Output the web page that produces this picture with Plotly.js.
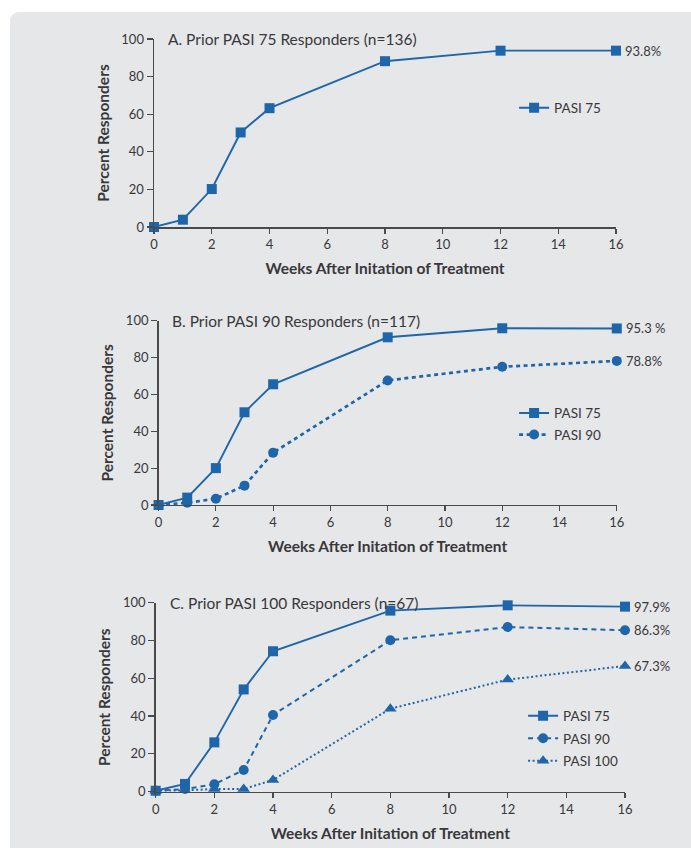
<!DOCTYPE html>
<html>
<head>
<meta charset="utf-8">
<script src="https://cdn.plot.ly/plotly-3.0.1.min.js"></script>
<style>
  html, body { margin: 0; padding: 0; background: #ffffff; }
  #bg { position: absolute; left: 10px; top: 12px; width: 700px; height: 860px; background: #e6e7e9; border-radius: 9px; }
  #chart { position: absolute; left: 0; top: 0; width: 691px; height: 848px; }
</style>
</head>
<body>
<div id="bg"></div>
<div id="chart"></div>
<script>
// ---- data ----
const weeks = [0, 1, 2, 3, 4, 8, 12, 16];
const tickWeeks = [0, 2, 4, 6, 8, 10, 12, 14, 16];
const yTicks = [0, 20, 40, 60, 80, 100];

const panelTitles = [
  "A. Prior PASI 75 Responders (n=136)",
  "B. Prior PASI 90 Responders (n=117)",
  "C. Prior PASI 100 Responders (n=67)"
];
const seriesNames = ["PASI 75", "PASI 90", "PASI 100"];

// Panel A
const a_pasi75 = [0, 3.9, 20.2, 50.3, 63.2, 88.2, 93.8, 93.8];
const a_labels = ["93.8%"];
// Panel B
const b_pasi75 = [0, 4.0, 20.0, 50.3, 65.5, 91.0, 95.9, 95.8];
const b_pasi90 = [0, 1.2, 3.4, 10.5, 28.4, 67.6, 75.0, 78.2];
const b_labels = ["95.3 %", "78.8%"];
// Panel C
const c_pasi75 = [0.5, 4.1, 26.1, 54.1, 74.3, 95.8, 98.6, 97.9];
const c_pasi90 = [0.5, 1.4, 3.9, 11.5, 40.6, 80.1, 87.1, 85.4];
const c_pasi100 = [0.5, 0.7, 1.4, 1.4, 6.2, 43.9, 59.3, 66.5];
const c_labels = ["97.9%", "86.3%", "67.3%"];

const xTitle = "Weeks After Initation of Treatment";
const yTitle = "Percent Responders";

// ---- styling ----
const BLUE = "#1f65aa";
const TXT = "#38383a";
const AX = "#4a4a4a";
const FONT = "Lato, 'Open Sans', sans-serif";

const markerStyles = [
  {symbol: "square", size: 10},
  {symbol: "circle", size: 10},
  {symbol: "triangle-up", size: 11}
];

const panels = [
  {series: [a_pasi75], labels: a_labels, lines: [{dash: "solid", width: 1.9}], gap: 2,
   xd: [0.2229, 0.8915], yd: [0.7323, 0.954], leg: {x: 0.744, y: 0.891}},
  {series: [b_pasi75, b_pasi90], labels: b_labels, lines: [{dash: "solid", width: 1.9}, {dash: "4px,3.5px", width: 2.7}], gap: 1,
   xd: [0.2295, 0.8926], yd: [0.4045, 0.6218], leg: {x: 0.744, y: 0.531}},
  {series: [c_pasi75, c_pasi90, c_pasi100], labels: c_labels,
   lines: [{dash: "solid", width: 1.9}, {dash: "5px,4px", width: 2}, {dash: "2px,2.5px", width: 2}], gap: 2,
   xd: [0.2253, 0.9045], yd: [0.0664, 0.2893], leg: {x: 0.757, y: 0.174}}
];

const traces = [];
const annotations = [];
const layout = {
  width: 691, height: 848,
  margin: {l: 0, r: 0, t: 0, b: 0},
  paper_bgcolor: "rgba(0,0,0,0)",
  plot_bgcolor: "rgba(0,0,0,0)",
  font: {family: FONT, color: TXT, size: 12},
  showlegend: true,
  annotations: annotations
};

panels.forEach((p, i) => {
  const n = i === 0 ? "" : String(i + 1);
  const xa = "x" + n, ya = "y" + n;
  const legName = "legend" + n;
  p.series.forEach((vals, s) => {
    traces.push({
      x: weeks, y: vals, xaxis: xa, yaxis: ya,
      type: "scatter", mode: "lines+markers",
      name: seriesNames[s],
      legend: legName,
      legendgroup: "g" + i + "_" + s,
      cliponaxis: false,
      line: {color: BLUE, width: p.lines[s].width, dash: p.lines[s].dash},
      marker: {color: BLUE, symbol: markerStyles[s].symbol, size: markerStyles[s].size}
    });
    annotations.push({
      xref: xa, yref: ya, x: weeks[weeks.length - 1], y: vals[vals.length - 1],
      text: p.labels[s], showarrow: false, xanchor: "left", yanchor: "middle",
      xshift: 7, font: {size: 13, color: TXT, family: FONT}
    });
  });
  annotations.push({
    xref: xa + " domain", yref: ya + " domain", x: 0.026, y: 1,
    text: panelTitles[i], showarrow: false, xanchor: "left", yanchor: "middle",
    font: {size: 15.5, color: TXT, family: FONT}
  });
  layout["xaxis" + n] = {
    domain: p.xd, anchor: ya, range: [0, 16], tickvals: tickWeeks,
    showline: true, linecolor: AX, linewidth: 1.5, ticks: "outside", ticklen: 5,
    tickcolor: AX, tickwidth: 1.2, showgrid: false, zeroline: false, fixedrange: true,
    tickfont: {size: 13, color: TXT, family: FONT},
    title: {text: xTitle, standoff: 12, font: {size: 15.5, color: TXT, family: FONT, weight: "bold"}},
    automargin: false
  };
  layout["yaxis" + n] = {
    domain: p.yd, anchor: xa, range: [0, 100], tickvals: yTicks,
    showline: true, linecolor: AX, linewidth: 1.5, ticks: "outside", ticklen: 6,
    tickcolor: AX, tickwidth: 1.2, showgrid: false, zeroline: false, fixedrange: true,
    tickfont: {size: 13, color: TXT, family: FONT},
    title: {text: yTitle, standoff: 8, font: {size: 15.5, color: TXT, family: FONT, weight: "bold"}},
    automargin: false
  };
  layout[legName] = {
    x: p.leg.x, y: p.leg.y, xanchor: "left", yanchor: "top",
    bgcolor: "rgba(0,0,0,0)", font: {size: 13.5, color: TXT, family: FONT},
    traceorder: "grouped", tracegroupgap: p.gap, itemclick: false, itemdoubleclick: false
  };
});

Plotly.newPlot("chart", traces, layout, {displayModeBar: false, staticPlot: true});
</script>
</body>
</html>
